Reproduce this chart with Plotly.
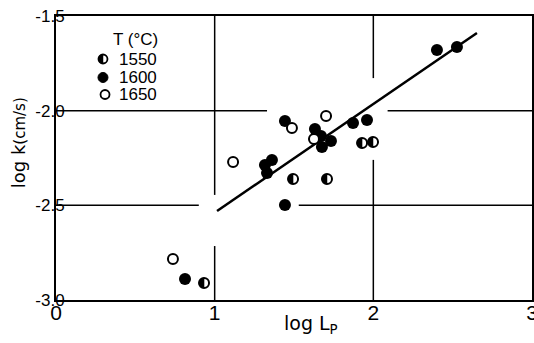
import plotly.graph_objects as go

# ---- data ----
x_1550 = [1.929, 1.998, 1.494, 1.708, 0.933]
y_1550 = [-2.171, -2.165, -2.361, -2.361, -2.910]

x_1600 = [1.443, 1.632, 1.670, 1.733, 1.676, 1.872, 1.960, 1.361, 1.317, 1.330, 1.443, 0.813, 2.401, 2.527]
y_1600 = [-2.055, -2.097, -2.134, -2.160, -2.192, -2.065, -2.049, -2.261, -2.287, -2.329, -2.498, -2.889, -1.680, -1.664]

x_1650 = [1.487, 1.702, 1.626, 1.116, 0.737]
y_1650 = [-2.092, -2.028, -2.150, -2.271, -2.783]

fit_x = [1.015, 2.653]
fit_y = [-2.530, -1.590]

x_ticks = [0, 1, 2, 3]
x_ticktext = ["0", "1", "2", "3"]
y_ticks = [-1.5, -2.0, -2.5, -3.0]
y_ticktext = ["-1.5", "-2.0", "-2.5", "-3.0"]

# broken grid lines (as in the original drawing)
v_grid = [(1, -1.5, -2.445), (1, -2.715, -3.0), (2, -1.5, -1.828), (2, -2.26, -3.0)]
h_grid = [(-2.0, 0, 1.33), (-2.0, 2.09, 3), (-2.5, 0, 0.9), (-2.5, 1.53, 3)]

legend_title = "T (°C)"
legend_labels = ["1550", "1600", "1650"]

FONT = "Liberation Sans, Arial, sans-serif"
TFONT = "DejaVu Sans, Verdana, sans-serif"

fig = go.Figure()

fig.add_trace(go.Scatter(x=fit_x, y=fit_y, mode="lines",
                         line=dict(color="black", width=2.5), showlegend=False))

fig.add_trace(go.Scatter(x=x_1600, y=y_1600, mode="markers",
                         marker=dict(symbol="circle", size=12, color="black"),
                         showlegend=False))

fig.add_trace(go.Scatter(x=x_1650, y=y_1650, mode="markers",
                         marker=dict(symbol="circle", size=10, color="white",
                                     line=dict(color="black", width=2)),
                         showlegend=False))

fig.add_trace(go.Scatter(x=x_1550, y=y_1550, mode="markers",
                         marker=dict(symbol="circle", size=10, color="white",
                                     line=dict(color="black", width=2)),
                         showlegend=False))

shapes = []
for gx, ya, yb in v_grid:
    shapes.append(dict(type="line", xref="x", yref="y", x0=gx, x1=gx, y0=ya, y1=yb,
                       line=dict(color="black", width=1.5), layer="below"))
for gy, xa, xb in h_grid:
    shapes.append(dict(type="line", xref="x", yref="y", x0=xa, x1=xb, y0=gy, y1=gy,
                       line=dict(color="black", width=1.5), layer="below"))


def half_path(r):
    k = 0.5523 * r
    return (f"M0,{r} C{-k},{r} {-r},{k} {-r},0 C{-r},{-k} {-k},{-r} 0,{-r} Z")


for hx, hy in zip(x_1550, y_1550):
    shapes.append(dict(type="path", xref="x", yref="y", xsizemode="pixel", ysizemode="pixel",
                       xanchor=hx, yanchor=hy, path=half_path(5),
                       fillcolor="black", line=dict(color="black", width=0.5), layer="above"))

# legend markers
leg_x = [0.0987, 0.0987, 0.103]
leg_y = [0.8486, 0.7835, 0.7236]
r = 4.5
shapes.append(dict(type="circle", xref="paper", yref="paper", xsizemode="pixel", ysizemode="pixel",
                   xanchor=leg_x[0], yanchor=leg_y[0], x0=-r, x1=r, y0=-r, y1=r,
                   fillcolor="white", line=dict(color="black", width=1.8)))
shapes.append(dict(type="path", xref="paper", yref="paper", xsizemode="pixel", ysizemode="pixel",
                   xanchor=leg_x[0], yanchor=leg_y[0], path=half_path(r),
                   fillcolor="black", line=dict(color="black", width=0.5)))
shapes.append(dict(type="circle", xref="paper", yref="paper", xsizemode="pixel", ysizemode="pixel",
                   xanchor=leg_x[1], yanchor=leg_y[1], x0=-5, x1=5, y0=-5, y1=5,
                   fillcolor="black", line=dict(color="black", width=1)))
shapes.append(dict(type="circle", xref="paper", yref="paper", xsizemode="pixel", ysizemode="pixel",
                   xanchor=leg_x[2], yanchor=leg_y[2], x0=-r, x1=r, y0=-r, y1=r,
                   fillcolor="white", line=dict(color="black", width=1.8)))

annotations = [
    dict(text=legend_title, x=0.168, y=0.9155, xref="paper", yref="paper", showarrow=False,
         xanchor="center", yanchor="middle", font=dict(family=FONT, size=17, color="black")),
]
for lbl, ly in zip(legend_labels, leg_y):
    annotations.append(dict(text=lbl, x=0.128, y=ly, xref="paper", yref="paper", showarrow=False,
                            xanchor="left", yanchor="middle", height=16,
                            font=dict(family=FONT, size=17, color="black")))

annotations.append(dict(text="log k<span style='font-size:15px'>(cm/s)</span>",
                        x=-0.078, y=0.555, xref="paper", yref="paper", showarrow=False,
                        textangle=-90, xanchor="center", yanchor="middle",
                        font=dict(family=TFONT, size=18, color="black")))
annotations.append(dict(text="log L<sub>P</sub>",
                        x=0.535, y=-0.035, xref="paper", yref="paper", showarrow=False,
                        xanchor="center", yanchor="top",
                        font=dict(family=TFONT, size=19, color="black")))

fig.update_layout(
    width=534, height=343,
    margin=dict(l=56, r=2, t=16, b=43),
    paper_bgcolor="white", plot_bgcolor="white",
    shapes=shapes, annotations=annotations,
    showlegend=False,
    xaxis=dict(range=[0, 3], tickvals=x_ticks, ticktext=x_ticktext, showgrid=False, zeroline=False,
               showline=True, mirror=True, linecolor="black", linewidth=2, ticks="",
               automargin=False, ticklabeloverflow="allow", ticklabelstandoff=-7,
               tickfont=dict(family=FONT, size=21, color="black")),
    yaxis=dict(range=[-3.0, -1.5], tickvals=y_ticks, ticktext=y_ticktext, showgrid=False,
               zeroline=False, showline=True, mirror=True, linecolor="black", linewidth=2,
               automargin=False, ticks="", ticklabelstandoff=-14,
               tickfont=dict(family=FONT, size=17, color="black")),
)

fig.write_html("out.html")
